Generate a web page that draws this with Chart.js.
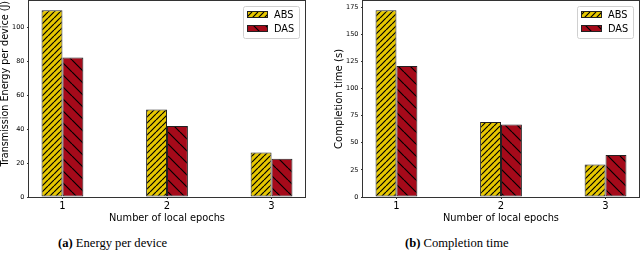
<!DOCTYPE html>
<html><head><meta charset="utf-8">
<script src="https://cdn.jsdelivr.net/npm/chart.js@4"></script>
<style>
html,body{margin:0;padding:0;background:#fff;width:640px;height:258px;overflow:hidden}
.box{position:absolute;top:0;width:320px;height:228px}
.cap{position:absolute;top:235px;font-family:"Liberation Serif","Times New Roman",serif;font-size:12.6px;color:#000;white-space:nowrap;line-height:16px}
</style></head><body>
<div class="box" style="left:0"><canvas id="c1" width="320" height="228" style="width:320px;height:228px"></canvas></div>
<div class="box" style="left:320px"><canvas id="c2" width="320" height="228" style="width:320px;height:228px"></canvas></div>
<div class="cap" style="left:58px"><b>(a)</b> Energy per device</div>
<div class="cap" style="left:405px"><b>(b)</b> Completion time</div>
<script>
const categories = [1, 2, 3];
const seriesNames = ['ABS', 'DAS'];
const energyABS = [110, 51.6, 26.2];
const energyDAS = [82.2, 41.8, 22.5];
const timeABS = [172, 69.1, 29.9];
const timeDAS = [120.6, 66.7, 38.6];
const energyTicks = [0, 20, 40, 60, 80, 100];
const timeTicks = [0, 25, 50, 75, 100, 125, 150, 175];
const xTitle = 'Number of local epochs';
const energyTitle = 'Transmission Energy per device (J)';
const timeTitle = 'Completion time (s)';

const FONT = '"DejaVu Sans", sans-serif';
const YELLOW = '#e6c700';
const RED = '#a50a1a';

function hatch(ctx, color, spacing, dir) {
  const c = document.createElement('canvas');
  c.width = spacing; c.height = spacing;
  const g = c.getContext('2d');
  g.fillStyle = color; g.fillRect(0, 0, spacing, spacing);
  g.strokeStyle = '#000'; g.lineWidth = 1.2;
  g.beginPath();
  for (const o of [-spacing, 0, spacing]) {
    if (dir === '/') { g.moveTo(o, spacing); g.lineTo(o + spacing, 0); }
    else { g.moveTo(o, 0); g.lineTo(o + spacing, spacing); }
  }
  g.stroke();
  return ctx.createPattern(c, 'repeat');
}

const framePlugin = {
  id: 'frame',
  afterDatasetsDraw(chart) {
    const { ctx, chartArea: a } = chart;
    ctx.save();
    ctx.strokeStyle = '#333'; ctx.lineWidth = 1;
    ctx.strokeRect(Math.round(a.left) - 0.5, Math.round(a.top) - 0.5,
      Math.round(a.right - a.left) + 1, Math.round(a.bottom - a.top) + 1);
    ctx.restore();
  }
};

const legendPlugin = {
  id: 'boxLegend',
  afterDraw(chart) {
    const { ctx, chartArea: a } = chart;
    const w = 56, h = 32;
    const x = Math.round(a.right) - 6 - w, y = Math.round(a.top) + 5;
    ctx.save();
    ctx.beginPath();
    if (ctx.roundRect) ctx.roundRect(x + 0.5, y + 0.5, w, h, 2); else ctx.rect(x + 0.5, y + 0.5, w, h);
    ctx.fillStyle = 'rgba(255,255,255,0.85)'; ctx.fill();
    ctx.strokeStyle = '#d0d0d0'; ctx.lineWidth = 1; ctx.stroke();
    chart.data.datasets.forEach((ds, i) => {
      const py = y + 5 + i * 14;
      ctx.fillStyle = ds.backgroundColor;
      ctx.fillRect(x + 4, py, 21, 7);
      ctx.strokeStyle = '#222'; ctx.lineWidth = 1;
      ctx.strokeRect(x + 4.5, py + 0.5, 20, 6);
      ctx.fillStyle = '#000';
      ctx.font = '9.8px ' + FONT;
      ctx.textBaseline = 'middle';
      ctx.textAlign = 'left';
      ctx.fillText(ds.label, x + 31, py + 4);
    });
    ctx.restore();
  }
};

function makeChart(id, absVals, dasVals, yTicks, yMax, yTitle, opts) {
  const canvas = document.getElementById(id);
  const ctx = canvas.getContext('2d');
  const absPattern = hatch(ctx, YELLOW, 6, '/');
  const dasPattern = hatch(ctx, RED, 12, '\\');
  return new Chart(ctx, {
    type: 'bar',
    data: {
      datasets: [
        { label: seriesNames[0], data: categories.map((c, i) => ({ x: c, y: absVals[i] })),
          backgroundColor: absPattern, borderColor: '#222', borderWidth: 1, borderSkipped: false },
        { label: seriesNames[1], data: categories.map((c, i) => ({ x: c, y: dasVals[i] })),
          backgroundColor: dasPattern, borderColor: '#222', borderWidth: 1, borderSkipped: false }
      ]
    },
    options: {
      responsive: false,
      animation: false,
      events: [],
      categoryPercentage: 0.4,
      barPercentage: 1.0,
      layout: { padding: { top: 1, right: opts.padRight, bottom: 0, left: 0 } },
      plugins: { legend: { display: false }, tooltip: { enabled: false } },
      scales: {
        x: {
          type: 'linear', offset: false, min: 0.68, max: 3.32,
          afterBuildTicks: s => { s.ticks = categories.map(v => ({ value: v })); },
          afterFit: s => { s.height = 31; s.paddingLeft = 0; s.paddingRight = 0; },
          grid: { display: true, drawOnChartArea: false, drawTicks: true, tickLength: 2, tickColor: '#333', offset: false },
          border: { display: false },
          ticks: { font: { family: FONT, size: 10 }, color: '#000', padding: 1.5, maxRotation: 0, autoSkip: false },
          title: { display: true, text: xTitle, font: { family: FONT, size: 9.8 }, color: '#000', padding: { top: 0, bottom: 4 } }
        },
        y: {
          min: 0, max: yMax,
          afterBuildTicks: s => { s.ticks = yTicks.map(v => ({ value: v })); },
          afterFit: s => { s.width = opts.yWidth; s.paddingTop = 0; s.paddingBottom = 0; },
          grid: { display: true, drawOnChartArea: false, drawTicks: true, tickLength: 2, tickColor: '#333' },
          border: { display: false },
          ticks: { font: { family: FONT, size: 6.5 }, color: '#000', padding: 2.5, autoSkip: false },
          title: { display: true, text: yTitle, align: opts.yAlign, font: { family: FONT, size: opts.yTitleSize }, color: '#000', padding: { top: opts.yTitlePad, bottom: 0 } }
        }
      }
    },
    plugins: [framePlugin, legendPlugin]
  });
}

makeChart('c1', energyABS, energyDAS, energyTicks, 115.5, energyTitle,
  { padRight: 15, yWidth: 29, yAlign: 'end', yTitleSize: 9.6, yTitlePad: 0 });
makeChart('c2', timeABS, timeDAS, timeTicks, 180.6, timeTitle,
  { padRight: 1, yWidth: 43, yAlign: 'center', yTitleSize: 10.1, yTitlePad: 13.4 });
</script>
</body></html>
